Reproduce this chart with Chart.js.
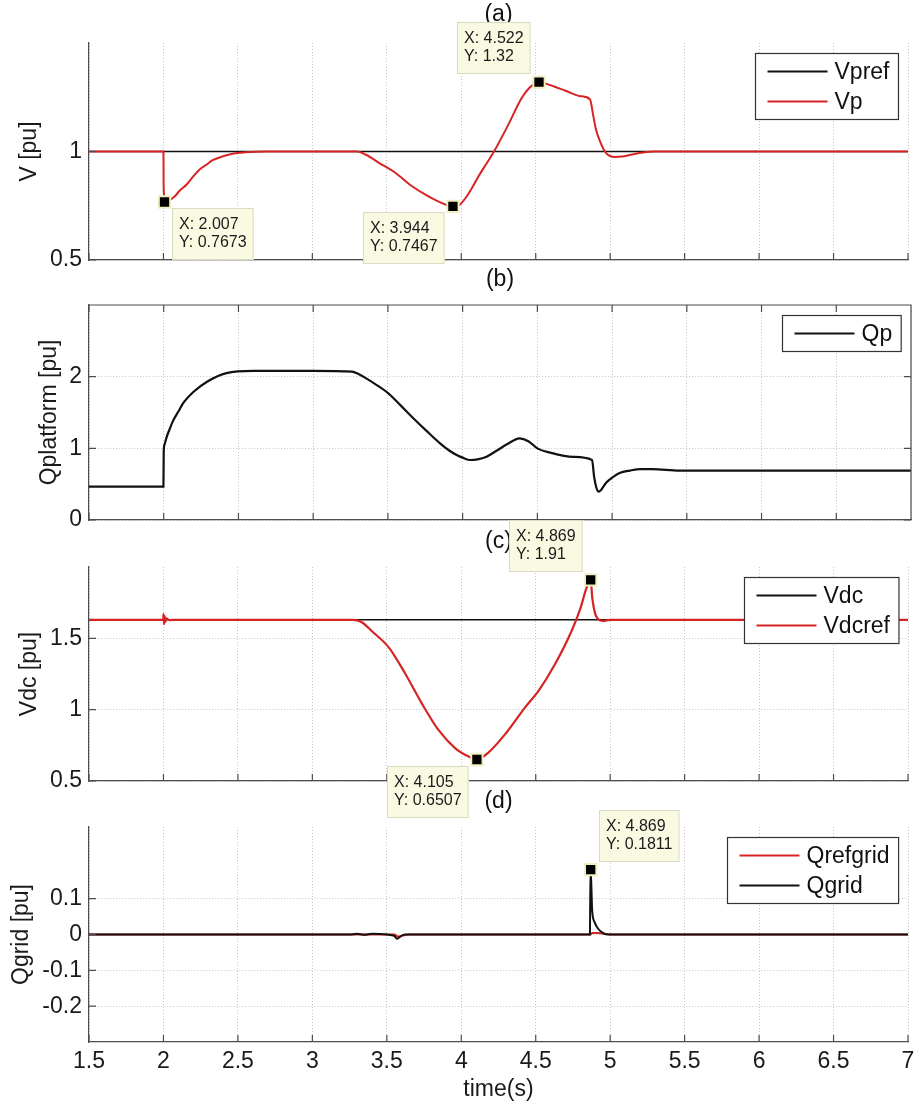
<!DOCTYPE html>
<html>
<head>
<meta charset="utf-8">
<title>Vp, Qplatform, Vdc, Qgrid</title>
<script src="https://cdn.jsdelivr.net/npm/chart.js@4.4.1/dist/chart.umd.min.js"></script>
<style>
  html, body { margin: 0; padding: 0; background: #fff; }
  #wrap { position: relative; width: 918px; height: 1103px; overflow: hidden; }
  #wrap canvas { position: absolute; left: 0; top: 0; }
</style>
</head>
<body>
<div id="wrap">
  <canvas id="panelA" width="918" height="1103"></canvas>
  <canvas id="panelB" width="918" height="1103"></canvas>
  <canvas id="panelC" width="918" height="1103"></canvas>
  <canvas id="panelD" width="918" height="1103"></canvas>
</div>
<script>
// shared time axis
const timeTicks = [1.5, 2, 2.5, 3, 3.5, 4, 4.5, 5, 5.5, 6, 6.5, 7];

// (a) platform voltage
const vprefTime = [1.5, 7];
const vprefVals = [1, 1];
const vpTime = [1.5, 2.0, 2.001, 2.004, 2.007, 2.04, 2.075, 2.11, 2.154, 2.2, 2.243, 2.29, 2.33, 2.4, 2.464,
  2.55, 2.69, 3.0, 3.3, 3.36, 3.447, 3.559, 3.67, 3.78, 3.87, 3.944, 3.99, 4.03, 4.07, 4.116, 4.17, 4.22, 4.317,
  4.4, 4.46, 4.522, 4.6, 4.7, 4.8, 4.865, 4.885, 4.905, 4.93, 4.96, 4.99, 5.03, 5.08, 5.14, 5.22, 5.3, 5.5, 7];
const vpVals = [1, 1, 0.86, 0.8, 0.7673, 0.776, 0.793, 0.82, 0.847, 0.885, 0.917, 0.94, 0.96, 0.978, 0.99,
  0.996, 1, 1, 1, 0.985, 0.948, 0.901, 0.84, 0.793, 0.762, 0.7467, 0.755, 0.787, 0.83, 0.886, 0.945, 1, 1.125,
  1.24, 1.295, 1.32, 1.305, 1.28, 1.255, 1.24, 1.17, 1.1, 1.05, 1.005, 0.982, 0.975, 0.977, 0.985, 0.995, 1, 1, 1];
const vTicks = [0.5, 1];
const tipAx = [2.007, 3.944, 4.522];
const tipAy = [0.7673, 0.7467, 1.32];

// (b) platform reactive power
const qpTime = [1.5, 1.998, 2.0, 2.005, 2.02, 2.04, 2.064, 2.1, 2.13, 2.2, 2.29, 2.42, 2.6, 3.0, 3.26,
  3.3, 3.335, 3.42, 3.503, 3.58, 3.67, 3.76, 3.849, 3.91, 3.96, 4.0, 4.05, 4.1, 4.16, 4.23, 4.3, 4.38, 4.44,
  4.5, 4.585, 4.74, 4.866, 4.88, 4.895, 4.91, 4.93, 4.96, 5.0, 5.05, 5.12, 5.19, 5.27, 5.45, 7];
const qpVals = [0.465, 0.465, 0.95, 1.05, 1.16, 1.27, 1.39, 1.52, 1.63, 1.79, 1.93, 2.05, 2.08, 2.08, 2.07,
  2.04, 2.0, 1.89, 1.767, 1.61, 1.42, 1.24, 1.07, 0.97, 0.907, 0.87, 0.837, 0.845, 0.883, 0.97, 1.06, 1.14, 1.1,
  1.0, 0.94, 0.88, 0.837, 0.6, 0.45, 0.395, 0.43, 0.52, 0.59, 0.655, 0.69, 0.71, 0.71, 0.69, 0.69];
const qpTicks = [0, 1, 2];

// (c) dc link voltage
const vdcTime = [1.5, 7];
const vdcVals = [1.63, 1.63];
const vdcrefTime = [1.5, 1.998, 2.001, 2.004, 2.008, 2.013, 2.02, 2.04, 2.1, 3.0, 3.27, 3.33, 3.4, 3.514, 3.625,
  3.736, 3.848, 3.96, 4.05, 4.105, 4.18, 4.3, 4.43, 4.52, 4.63, 4.74, 4.8, 4.84, 4.869, 4.88, 4.9, 4.92, 4.95, 5.0, 7];
const vdcrefVals = [1.63, 1.63, 1.67, 1.6, 1.655, 1.615, 1.64, 1.628, 1.63, 1.63, 1.63, 1.615, 1.55, 1.435, 1.25,
  1.042, 0.856, 0.729, 0.671, 0.6507, 0.697, 0.835, 1.018, 1.134, 1.32, 1.55, 1.71, 1.85, 1.91, 1.78, 1.67, 1.634, 1.622, 1.63, 1.63];
const vdcTicks = [0.5, 1, 1.5];
const tipCx = [4.869, 4.105];
const tipCy = [1.91, 0.6507];

// (d) grid reactive power
const qrefTime = [1.5, 3.55, 3.575, 3.6, 3.65, 4.866, 4.88, 4.92, 4.96, 5.0, 7];
const qrefVals = [0, 0, -0.006, -0.004, 0, 0, 0.004, 0.004, 0.002, 0, 0];
const qgridTime = [1.5, 3.25, 3.3, 3.35, 3.4, 3.5, 3.55, 3.57, 3.59, 3.62, 4.864, 4.866, 4.869, 4.879, 4.896, 4.919, 4.953, 4.986, 7];
const qgridVals = [0, 0, 0.002, -0.001, 0.002, 0, -0.004, -0.012, -0.006, 0, 0, 0.1, 0.1811, 0.067, 0.034, 0.016, 0.004, 0, 0];
const qgridTicks = [-0.2, -0.1, 0, 0.1];
const tipDx = [4.869];
const tipDy = [0.1811];

const FONT = '"Liberation Sans", Arial, Helvetica, sans-serif';
const RED = '#d62424';
const BLACK = '#111111';
const AXIS = '#4d4d4d';
const GRID = '#c4c4c4';

Chart.defaults.font.family = FONT;
Chart.defaults.font.size = 23;
Chart.defaults.color = '#1a1a1a';

function pts(ts, vs) {
  return ts.map(function(t, i) { return {x: t, y: vs[i]}; });
}

function series(label, ts, vs, color, width, order) {
  return {
    label: label, data: pts(ts, vs), borderColor: color, backgroundColor: color,
    borderWidth: width, pointRadius: 0, cubicInterpolationMode: 'monotone', order: order, fill: false
  };
}

function markers(xs, ys) {
  return {
    data: pts(xs, ys), showLine: false, pointStyle: 'rect', pointRadius: 8,
    pointBackgroundColor: '#000', pointBorderColor: '#f1eec2', pointBorderWidth: 2, order: 0
  };
}

// inward tick marks, plus the top/right frame when the axes are boxed
const matlabFrame = {
  id: 'matlabFrame',
  afterDatasetsDraw(chart, args, opts) {
    const ctx = chart.ctx, a = chart.chartArea, x = chart.scales.x, y = chart.scales.y;
    ctx.save();
    ctx.strokeStyle = AXIS;
    ctx.lineWidth = 1.2;
    ctx.beginPath();
    x.ticks.forEach(function(t) {
      const px = x.getPixelForValue(t.value);
      ctx.moveTo(px, a.bottom); ctx.lineTo(px, a.bottom - 7);
      if (opts.box) { ctx.moveTo(px, a.top); ctx.lineTo(px, a.top + 7); }
    });
    y.ticks.forEach(function(t) {
      const py = y.getPixelForValue(t.value);
      ctx.moveTo(a.left, py); ctx.lineTo(a.left + 7, py);
      if (opts.box) { ctx.moveTo(a.right, py); ctx.lineTo(a.right - 7, py); }
    });
    if (opts.box) {
      ctx.moveTo(a.left, a.top); ctx.lineTo(a.right, a.top); ctx.lineTo(a.right, a.bottom);
    }
    ctx.stroke();
    ctx.restore();
  }
};

// boxed legend in the upper right corner of the axes
const boxLegend = {
  id: 'boxLegend',
  afterDraw(chart) {
    const ctx = chart.ctx, a = chart.chartArea;
    const items = chart.data.datasets.filter(function(d) { return d.label; });
    ctx.save();
    ctx.font = '23px ' + FONT;
    const textW = Math.max.apply(null, items.map(function(d) { return ctx.measureText(d.label).width; }));
    const w = 12 + 60 + 7 + textW + 9;
    const h = 36 + 30 * (items.length - 1);
    const left = Math.round(a.right - 10 - w) + 0.5, top = Math.round(a.top + 10) + 0.5;
    ctx.fillStyle = '#fff';
    ctx.fillRect(left, top, w, h);
    ctx.strokeStyle = '#333';
    ctx.lineWidth = 1.2;
    ctx.strokeRect(left, top, w, h);
    ctx.textBaseline = 'middle';
    items.forEach(function(d, i) {
      const yy = top + 18 + 30 * i;
      ctx.strokeStyle = d.borderColor;
      ctx.lineWidth = 2;
      ctx.beginPath(); ctx.moveTo(left + 12, yy); ctx.lineTo(left + 72, yy); ctx.stroke();
      ctx.fillStyle = '#111';
      ctx.fillText(d.label, left + 79, yy + 1);
    });
    ctx.restore();
  }
};

// data cursor boxes next to the marked points
const dataTips = {
  id: 'dataTips',
  afterDraw(chart, args, opts) {
    if (!opts.xs) return;
    const ctx = chart.ctx, x = chart.scales.x, y = chart.scales.y;
    ctx.save();
    ctx.font = '16px ' + FONT;
    ctx.textBaseline = 'middle';
    opts.xs.forEach(function(tx, i) {
      const lines = ['X: ' + tx, 'Y: ' + opts.ys[i]];
      const w = Math.max(ctx.measureText(lines[0]).width, ctx.measureText(lines[1]).width) + 14;
      const h = 52;
      const px = x.getPixelForValue(tx), py = y.getPixelForValue(opts.ys[i]);
      const p = opts.place[i];
      const left = Math.round(p[1] === 'e' ? px + 8 : px - 8 - w);
      const top = Math.round(p[0] === 's' ? py + 6 : py - 60);
      ctx.fillStyle = '#fafae2';
      ctx.fillRect(left, top, w, h);
      ctx.strokeStyle = '#dadac2';
      ctx.lineWidth = 1;
      ctx.strokeRect(left + 0.5, top + 0.5, w - 1, h - 1);
      ctx.fillStyle = '#1a1a1a';
      ctx.fillText(lines[0], left + 7, top + 17);
      ctx.fillText(lines[1], left + 7, top + 35);
    });
    ctx.restore();
  }
};

function makePanel(id, cfg) {
  return new Chart(document.getElementById(id), {
    type: 'line',
    data: { datasets: cfg.datasets },
    plugins: [matlabFrame, boxLegend, dataTips],
    options: {
      responsive: false,
      animation: false,
      devicePixelRatio: 1,
      events: [],
      layout: { padding: { left: 0, right: 7, top: cfg.titleY - 11.5, bottom: 1103 - cfg.bottom - cfg.xHeight } },
      scales: {
        x: {
          type: 'linear', min: 1.5, max: 7,
          afterBuildTicks: function(s) { s.ticks = timeTicks.map(function(v) { return {value: v}; }); },
          afterFit: function(s) { s.height = cfg.xHeight; s.paddingLeft = 0; s.paddingRight = 0; },
          ticks: { display: cfg.showTime, padding: 6, maxRotation: 0, autoSkip: false,
                   font: { size: 23, lineHeight: 1.2 }, callback: function(v) { return String(v); } },
          grid: { color: GRID, lineWidth: 1, drawTicks: false },
          border: { color: AXIS, width: 1.2, dash: [1, 2] },
          title: { display: cfg.showTime, text: 'time(s)', font: { size: 23, lineHeight: 1 }, padding: { top: 0, bottom: 1.5 } }
        },
        y: {
          type: 'linear', min: cfg.yMin, max: cfg.yMax,
          afterBuildTicks: function(s) { s.ticks = cfg.yTicks.map(function(v) { return {value: v}; }); },
          afterFit: function(s) { s.width = 89; s.paddingTop = 0; s.paddingBottom = 0; },
          ticks: { padding: 7, font: { size: 23 }, callback: function(v) { return String(v); } },
          grid: { color: GRID, lineWidth: 1, drawTicks: false },
          border: { color: AXIS, width: 1.2, dash: [1, 2] },
          title: { display: true, text: cfg.yLabel, font: { size: 23, lineHeight: 1 }, padding: { top: cfg.yTitlePad, bottom: 0 } }
        }
      },
      plugins: {
        legend: { display: false },
        tooltip: { enabled: false },
        title: {
          display: true, text: cfg.title, fullSize: false, color: '#111',
          font: { size: 23, weight: 'normal', lineHeight: 1 },
          padding: { top: 0, bottom: cfg.top - (cfg.titleY - 11.5) - 23 }
        },
        matlabFrame: { box: cfg.box },
        dataTips: cfg.tips || {}
      }
    }
  });
}

makePanel('panelA', {
  title: '(a)', titleY: 15, top: 43, bottom: 260, xHeight: 0, showTime: false,
  yMin: 0.5, yMax: 1.5, yTicks: vTicks, yLabel: 'V [pu]', yTitlePad: 18.5, box: false,
  datasets: [
    series('Vpref', vprefTime, vprefVals, BLACK, 1.6, 2),
    series('Vp', vpTime, vpVals, RED, 2, 1),
    markers(tipAx, tipAy)
  ],
  tips: { xs: tipAx, ys: tipAy, place: ['se', 'sw', 'nw'] }
});

makePanel('panelB', {
  title: '(b)', titleY: 280, top: 305, bottom: 520, xHeight: 0, showTime: false,
  yMin: 0, yMax: 3, yTicks: qpTicks, yLabel: 'Qplatform [pu]', yTitlePad: 38.5, box: true,
  datasets: [
    series('Qp', qpTime, qpVals, BLACK, 2.2, 1)
  ]
});

makePanel('panelC', {
  title: '(c)', titleY: 542, top: 567, bottom: 781, xHeight: 0, showTime: false,
  yMin: 0.5, yMax: 2, yTicks: vdcTicks, yLabel: 'Vdc [pu]', yTitlePad: 18.5, box: false,
  datasets: [
    series('Vdc', vdcTime, vdcVals, BLACK, 1.6, 2),
    series('Vdcref', vdcrefTime, vdcrefVals, RED, 2.2, 1),
    markers(tipCx, tipCy)
  ],
  tips: { xs: tipCx, ys: tipCy, place: ['nw', 'sw'] }
});

makePanel('panelD', {
  title: '(d)', titleY: 802, top: 827, bottom: 1042, xHeight: 61, showTime: true,
  yMin: -0.3, yMax: 0.3, yTicks: qgridTicks, yLabel: 'Qgrid [pu]', yTitlePad: 10.5, box: false,
  datasets: [
    series('Qrefgrid', qrefTime, qrefVals, RED, 2, 2),
    series('Qgrid', qgridTime, qgridVals, BLACK, 2, 1),
    markers(tipDx, tipDy)
  ],
  tips: { xs: tipDx, ys: tipDy, place: ['ne'] }
});
</script>
</body>
</html>
